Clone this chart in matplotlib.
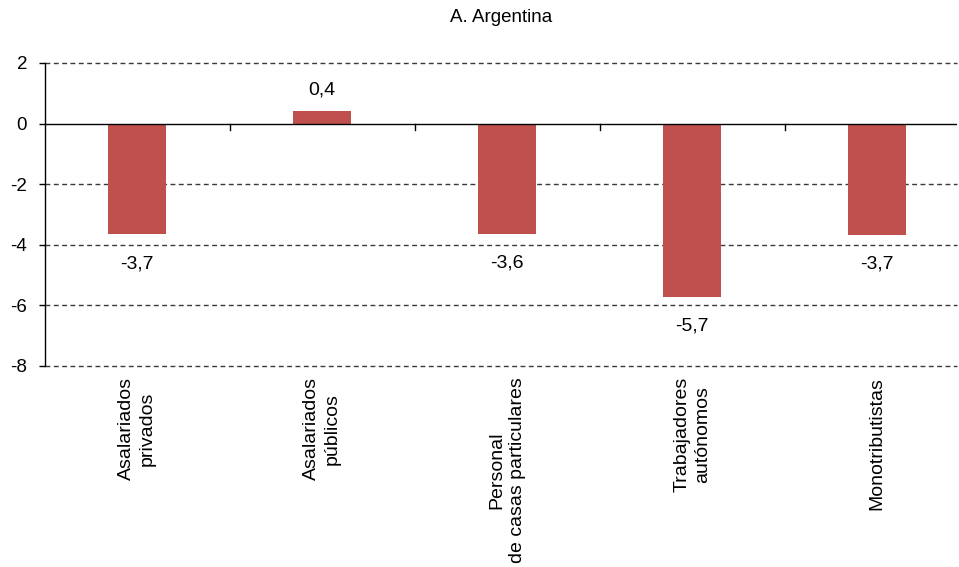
import matplotlib
matplotlib.use("Agg")
import matplotlib.pyplot as plt

plt.rcParams['font.family'] = ['Liberation Sans', 'DejaVu Sans']

categories = ["Asalariados\nprivados", "Asalariados\npúblicos",
              "Personal\nde casas particulares", "Trabajadores\nautónomos",
              "Monotributistas"]
values = [-3.66, 0.42, -3.63, -5.72, -3.68]
yticks = [2, 0, -2, -4, -6, -8]
title = "A. Argentina"

bar_color = "#C0504D"

fig = plt.figure(figsize=(9.59, 5.67), dpi=100)
ax_left, ax_width = 44.5 / 959, 912.5 / 959
ax = fig.add_axes([ax_left, 1 - 366 / 567, ax_width, 303 / 567])

x = list(range(len(categories)))
ax.bar(x, values, width=0.315, color=bar_color, zorder=3)

ax.set_xlim(-0.5, -0.5 + 912.5 / 185)
ax.set_ylim(-8, 2)
ax.set_yticks(yticks)
ax.set_yticklabels([str(t) for t in yticks], fontsize=13.5)

for t in yticks:
    if t != 0:
        ax.axhline(t, color="#3a3a3a", lw=1.0, ls=(0, (3.5, 2.5)), zorder=1, clip_on=False)
ax.axhline(0, color="black", lw=1.0, zorder=4)

for s in ["top", "right", "bottom"]:
    ax.spines[s].set_visible(False)
ax.spines["left"].set_linewidth(1.0)
ax.tick_params(axis="y", length=4.5, width=1.0, pad=8)

# category ticks along the zero line at the boundaries between groups
ax.set_xticks([])
for b in [i + 0.5 for i in range(len(categories) - 1)]:
    ax.plot([b, b], [0, -0.2], color="black", lw=1.0, zorder=4)

# rotated category labels below the plot area
for xi, lab in zip(x, categories):
    ax.annotate(lab, xy=(xi, -8), xycoords="data", xytext=(0, -8),
                textcoords="offset points", rotation=90, ha="center", va="top",
                multialignment="center", fontsize=14, linespacing=1.25,
                annotation_clip=False)

# value labels
for xi, v in zip(x, values):
    txt = f"{v:.1f}".replace(".", ",")
    if v >= 0:
        ax.annotate(txt, xy=(xi, v), xytext=(0, 9), textcoords="offset points",
                    ha="center", va="bottom", fontsize=14)
    else:
        ax.annotate(txt, xy=(xi, v), xytext=(0, -15), textcoords="offset points",
                    ha="center", va="top", fontsize=14)

# title centred over the plot area
fig.text(ax_left + ax_width / 2, 1 - 18 / 567, title,
         ha="center", va="center", fontsize=13.5)

fig.savefig("out.png", dpi=100)
